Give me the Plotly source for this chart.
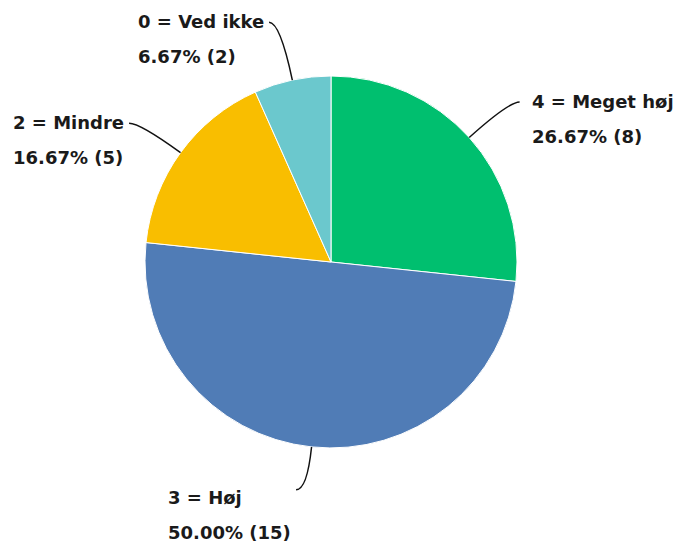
import math
import plotly.graph_objects as go

labels = ["4 = Meget høj", "3 = Høj", "2 = Mindre", "0 = Ved ikke"]
counts = [8, 15, 5, 2]
colors = ["#00BF6F", "#507CB6", "#F9BE00", "#6BC8CD"]

# leader line reach beyond the rim and label side per slice
reach = [53, 43, 50, 59]
side = [1, -1, -1, -1]
label_drop = [0, 8, 0, 0]

W, H = 680, 543
ml, mr, mt, mb = 145, 163, 76, 95
pw, ph = W - ml - mr, H - mt - mb
R = min(pw, ph) / 2
cx, cy = ml + pw / 2, mt + ph / 2


def px(x):
    return (x - ml) / pw


def py(y):
    return (H - mb - y) / ph


fig = go.Figure(go.Pie(
    labels=labels,
    values=counts,
    sort=False,
    direction="clockwise",
    rotation=0,
    marker=dict(colors=colors, line=dict(color="white", width=1)),
    textinfo="none",
    hoverinfo="label+percent+value",
    showlegend=False,
))

total = sum(counts)
start = 0.0
for i, (lab, n) in enumerate(zip(labels, counts)):
    frac = n / total
    mid = (start + frac / 2) * 2 * math.pi
    start += frac
    dx, dy = math.sin(mid), -math.cos(mid)
    x0, y0 = cx + R * dx, cy + R * dy
    x1, y1 = cx + (R + reach[i]) * dx, cy + (R + reach[i]) * dy
    x2, y2 = x1 + side[i] * 11, y1
    fig.add_shape(
        type="path",
        xref="paper", yref="paper",
        path=f"M {px(x0)},{py(y0)} Q {px(x1)},{py(y1)} {px(x2)},{py(y2)}",
        line=dict(color="#111111", width=1.5),
    )
    pct = f"{frac * 100:.2f}% ({n})"
    tx = x2 + 10 if side[i] > 0 else x2 - 3
    fig.add_annotation(
        xref="paper", yref="paper",
        x=px(tx), y=py(y2 + label_drop[i] + 17),
        text=f"<span style='font-size:18px'>{lab}</span><br><span style='font-size:18px'>{pct}</span>",
        showarrow=False,
        xanchor="left" if side[i] > 0 else "right",
        yanchor="middle",
        align="left",
        font=dict(family="DejaVu Sans", size=27, color="#1a1a1a", weight="bold"),
    )

fig.update_layout(
    width=W, height=H,
    margin=dict(l=ml, r=mr, t=mt, b=mb),
    paper_bgcolor="white",
    plot_bgcolor="white",
)

fig.write_html(
    "out.html",
    config={"displayModeBar": False},
    post_script="document.body.style.margin='0px';",
)
